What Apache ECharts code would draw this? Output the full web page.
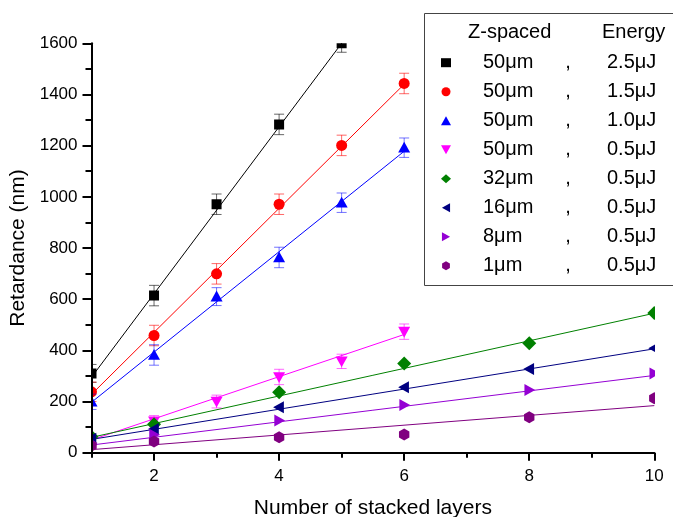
<!DOCTYPE html>
<html>
<head>
<meta charset="utf-8">
<script src="https://cdn.jsdelivr.net/npm/echarts@6/dist/echarts.min.js"></script>
<style>html,body{margin:0;padding:0;background:#fff}#c{width:673px;height:517px}</style>
</head>
<body>
<div id="c"></div>
<script>
// ---------- data ----------
const zSpacing = ['50μm','50μm','50μm','50μm','32μm','16μm','8μm','1μm'];
const energy   = ['2.5μJ','1.5μJ','1.0μJ','0.5μJ','0.5μJ','0.5μJ','0.5μJ','0.5μJ'];

const x50_25 = [1,2,3,4,5];
const y50_25 = [310, 614, 971, 1283, 1600];
const e50_25 = [35, 40, 40, 40, 35];

const x50_15 = [1,2,3,4,5,6];
const y50_15 = [238, 458, 699, 971, 1201, 1443];
const e50_15 = [38, 40, 40, 40, 40, 40];

const x50_10 = [1,2,3,4,5,6];
const y50_10 = [199, 382, 610, 763, 977, 1192];
const e50_10 = [30, 40, 35, 40, 38, 38];

const x50_05 = [1,2,3,4,5,6];
const y50_05 = [48, 123, 200, 296, 357, 473];
const e50_05 = [20, 22, 25, 30, 28, 30];

const x32 = [1,2,4,6,8,10];
const y32 = [62, 111, 236, 349, 428, 546];

const x16 = [1,2,4,6,8,10];
const y16 = [55, 93, 178, 256, 327, 408];

const x8 = [1,2,4,6,8,10];
const y8 = [38, 70, 126, 186, 245, 310];

const x1 = [1,2,4,6,8,10];
const y1 = [27, 44, 60, 71, 139, 213];

// linear-fit line end points
const fitX50_25 = [1,5];  const fitY50_25 = [295, 1600];
const fitX50_15 = [1,6];  const fitY50_15 = [228, 1440];
const fitX50_10 = [1,6];  const fitY50_10 = [197, 1178];
const fitX50_05 = [1,6];  const fitY50_05 = [50, 462];
const fitX32    = [1,10]; const fitY32    = [60, 545];
const fitX16    = [1,10]; const fitY16    = [52, 406];
const fitX8     = [1,10]; const fitY8     = [30, 302];
const fitX1     = [1,10]; const fitY1     = [12, 184];

const xMajorTicks = [2,4,6,8,10];
const xMinorTicks = [1,3,5,7,9];
const yTickLabels = [0,200,400,600,800,1000,1200,1400,1600];

// ---------- styling ----------
const FONT = '"Liberation Sans", Arial, sans-serif';
const colors = ['#000000','#ff0000','#0000ff','#ff00ff','#008000','#000080','#9400d3','#800080'];
const errColors = ['rgba(0,0,0,0.6)','rgba(255,0,0,0.6)','rgba(0,0,255,0.55)','rgba(255,0,255,0.6)'];
const shapes = ['square','circle','up','down','diamond','left','right','hex'];
const sizes = [10, 11, 12, 12, 14, 12, 12, 12];
const legendIcons = ['rect','circle','triangle',
  'path://M0,0L10,0L5,9Z','diamond','path://M9,0L9,10L0,5Z','path://M0,0L0,10L9,5Z',
  'path://M5,0L9.33,2.5L9.33,7.5L5,10L0.67,7.5L0.67,2.5Z'];

const seriesNames = zSpacing.map((z,i)=> z + ' , ' + energy[i]);

const markerX = [x50_25,x50_15,x50_10,x50_05,x32,x16,x8,x1];
const markerY = [y50_25,y50_15,y50_10,y50_05,y32,y16,y8,y1];
const markerE = [e50_25,e50_15,e50_10,e50_05,null,null,null,null];
const fitXs = [fitX50_25,fitX50_15,fitX50_10,fitX50_05,fitX32,fitX16,fitX8,fitX1];
const fitYs = [fitY50_25,fitY50_15,fitY50_10,fitY50_05,fitY32,fitY16,fitY8,fitY1];

function markerShape(kind, cx, cy, s, color){
  const h = s/2;
  const st = {fill: color, stroke: null};
  switch(kind){
    case 'square': return {type:'rect', shape:{x:cx-h, y:cy-h, width:s, height:s}, style:st};
    case 'circle': return {type:'circle', shape:{cx:cx, cy:cy, r:h}, style:st};
    case 'up': return {type:'polygon', shape:{points:[[cx,cy-h],[cx+h,cy+h*0.8],[cx-h,cy+h*0.8]]}, style:st};
    case 'down': return {type:'polygon', shape:{points:[[cx-h,cy-h*0.8],[cx+h,cy-h*0.8],[cx,cy+h]]}, style:st};
    case 'diamond': return {type:'polygon', shape:{points:[[cx,cy-h],[cx+h,cy],[cx,cy+h],[cx-h,cy]]}, style:st};
    case 'left': return {type:'polygon', shape:{points:[[cx-h,cy],[cx+h*0.8,cy-h],[cx+h*0.8,cy+h]]}, style:st};
    case 'right': return {type:'polygon', shape:{points:[[cx+h,cy],[cx-h*0.8,cy-h],[cx-h*0.8,cy+h]]}, style:st};
    default: {
      const pts = [];
      for (let k=0;k<6;k++){ const a = (-90 + 60*k)*Math.PI/180; pts.push([cx + h*Math.cos(a), cy + h*Math.sin(a)]); }
      return {type:'polygon', shape:{points:pts}, style:st};
    }
  }
}

function makeRender(i){
  return function(params, api){
    const x = api.value(0), y = api.value(1), e = api.value(2);
    const p = api.coord([x, y]);
    const children = [];
    if (e > 0) {
      const t = api.coord([x, y + e]), b = api.coord([x, y - e]);
      const cw = 5, es = {stroke: errColors[i], lineWidth: 1};
      children.push({type:'line', shape:{x1:p[0], y1:t[1], x2:p[0], y2:b[1]}, style:es});
      children.push({type:'line', shape:{x1:p[0]-cw, y1:t[1], x2:p[0]+cw, y2:t[1]}, style:es});
      children.push({type:'line', shape:{x1:p[0]-cw, y1:b[1], x2:p[0]+cw, y2:b[1]}, style:es});
    }
    children.push(markerShape(shapes[i], p[0], p[1], sizes[i], colors[i]));
    return {type:'group', children: children};
  };
}

const series = [];
// fit lines first (under the markers)
fitXs.forEach((fx, i) => {
  series.push({
    name: 'fit' + i, type: 'line', data: fx.map((x,k)=>[x, fitYs[i][k]]),
    showSymbol: false, symbol: 'none', silent: true, clip: true, z: 2,
    lineStyle: {color: colors[i], width: 1}, itemStyle: {color: colors[i]}
  });
});
markerX.forEach((xs, i) => {
  series.push({
    name: seriesNames[i], type: 'custom', clip: true, z: 3,
    itemStyle: {color: colors[i]},
    encode: {x: 0, y: 1},
    data: xs.map((x,k)=>[x, markerY[i][k], markerE[i] ? markerE[i][k] : 0]),
    renderItem: makeRender(i)
  });
});

const chart = echarts.init(document.getElementById('c'), null, {renderer: 'canvas'});
chart.setOption({
  animation: false,
  backgroundColor: '#ffffff',
  textStyle: {fontFamily: FONT},
  grid: {left: 91.5, right: 18.7, top: 43.3, bottom: 64.3, containLabel: false, outerBoundsMode: 'none'},
  xAxis: [{
    type: 'value', min: 1, max: 10, z: 10,
    name: 'Number of stacked layers', nameLocation: 'middle', nameGap: 45,
    nameTextStyle: {fontSize: 21, color: '#000', fontFamily: FONT},
    axisLine: {show: true, onZero: false, lineStyle: {color: '#000', width: 2}},
    axisTick: {show: true, inside: false, length: 8, customValues: xMajorTicks, lineStyle: {color: '#000', width: 2}},
    axisLabel: {show: true, customValues: xMajorTicks, margin: 15, fontSize: 17, color: '#000', fontFamily: FONT},
    splitLine: {show: false}
  }, {
    type: 'value', min: 1, max: 10, position: 'bottom', offset: 0, z: 10, gridIndex: 0,
    axisLine: {show: false},
    axisTick: {show: true, inside: false, length: 5, customValues: xMinorTicks, lineStyle: {color: '#000', width: 2}},
    axisLabel: {show: false}, splitLine: {show: false}
  }],
  yAxis: {
    type: 'value', min: 0, max: 1600, interval: 200, z: 10,
    name: 'Retardance (nm)', nameLocation: 'middle', nameGap: 49,
    nameTextStyle: {fontSize: 21, color: '#000', fontFamily: FONT},
    axisLine: {show: true, onZero: false, lineStyle: {color: '#000', width: 2}},
    axisTick: {show: true, inside: false, length: 9, lineStyle: {color: '#000', width: 2}},
    minorTick: {show: true, splitNumber: 2, length: 6, lineStyle: {color: '#000', width: 2}},
    axisLabel: {margin: 14, fontSize: 17, color: '#000', fontFamily: FONT,
      formatter: v => (yTickLabels.indexOf(v) >= 0 ? String(v) : '')},
    splitLine: {show: false}, minorSplitLine: {show: false}
  },
  legend: {
    show: true, orient: 'vertical', left: 441, top: 52.7, padding: 0,
    itemWidth: 10, itemHeight: 9, itemGap: 9, selectedMode: false,
    data: seriesNames.map((n,i)=>({name: n, icon: legendIcons[i], itemStyle: {color: colors[i]}})),
    formatter: function(name){
      const i = seriesNames.indexOf(name);
      return '{s| }{n|' + zSpacing[i] + '}{c|,}{t| }{e|' + energy[i] + '}';
    },
    textStyle: {
      fontFamily: FONT, fontSize: 20, color: '#000',
      rich: {
        s: {width: 27, fontSize: 20, lineHeight: 20, fontFamily: FONT},
        n: {width: 80, fontSize: 20, lineHeight: 20, fontFamily: FONT, color: '#000'},
        c: {width: 10, align: 'center', fontSize: 20, lineHeight: 20, fontFamily: FONT, color: '#000'},
        t: {width: 34, fontSize: 20, lineHeight: 20, fontFamily: FONT},
        e: {fontSize: 20, lineHeight: 20, fontFamily: FONT, color: '#000'}
      }
    }
  },
  graphic: [
    {type: 'rect', z: 0, shape: {x: 424.5, y: 13.5, width: 270, height: 272},
     style: {fill: '#fff', stroke: '#444', lineWidth: 1}},
    {type: 'text', z: 5, x: 468, y: 32, style: {text: 'Z-spaced', fontSize: 20, fontFamily: FONT, fill: '#000', verticalAlign: 'middle', align: 'left'}},
    {type: 'text', z: 5, x: 602, y: 32, style: {text: 'Energy', fontSize: 20, fontFamily: FONT, fill: '#000', verticalAlign: 'middle', align: 'left'}}
  ],
  series: series
});
</script>
</body>
</html>
